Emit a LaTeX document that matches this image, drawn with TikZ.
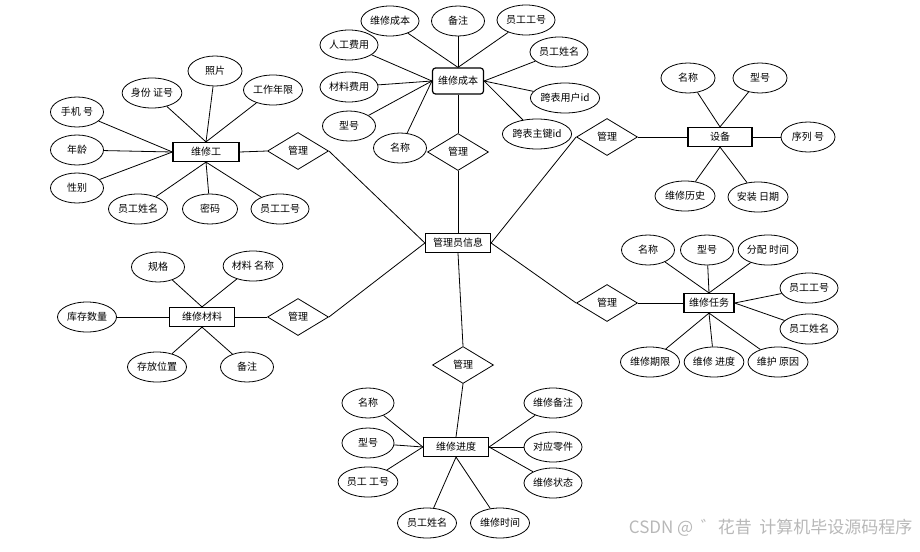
\documentclass[tikz,border=0pt]{standalone}
\usepackage{fontspec}
\setmainfont{Noto Sans CJK SC}
\usetikzlibrary{shapes.geometric}
\tikzset{
  entity/.style={draw, line width=1.2pt, minimum width=65pt, minimum height=19pt, inner sep=1pt},
  attr/.style={draw, line width=0.8pt, ellipse, minimum width=#1, minimum height=30pt, inner sep=0pt},
  attr/.default=58pt,
  rel/.style={draw, line width=0.8pt, diamond, minimum width=61pt, minimum height=37pt, inner sep=0pt},
  link/.style={line width=0.8pt}
}
\begin{document}
\begin{tikzpicture}[x=1pt, y=-1pt, every node/.style={font=\fontsize{10}{12}\selectfont}]
		\useasboundingbox (0,0) rectangle (920,551);
		%Entities
		\node[entity] (admin) at (458,243) {管理员信息};
		\node[entity, minimum width=66pt] (worker) at (206,152) {维修工};
		\node[entity, rounded corners=3pt, minimum width=51pt, minimum height=26pt] (cost) at (458,81) {维修成本};
		\node[entity, minimum width=64pt] (device) at (720,137) {设备};
		\node[entity] (material) at (202,317) {维修材料};
		\node[entity, minimum width=50pt] (task) at (709,303) {维修任务};
		\node[entity] (progress) at (456,447) {维修进度};
		%Relations
		\node[rel] (r1) at (298,151) {管理};
		\node[rel] (r2) at (458,152) {管理};
		\node[rel] (r3) at (607,137) {管理};
		\node[rel] (r4) at (298,317) {管理};
		\node[rel] (r5) at (607,303) {管理};
		\node[rel] (r6) at (463,365) {管理};
		\draw[link] (worker.east) -- (r1.west);
		\draw[link] (r1.east) -- (admin.west);
		\draw[link] (cost.south) -- (r2.north);
		\draw[link] (r2.south) -- (admin.north);
		\draw[link] (admin.east) -- (r3.west);
		\draw[link] (r3.east) -- (device.west);
		\draw[link] (material.east) -- (r4.west);
		\draw[link] (r4.east) -- (admin.west);
		\draw[link] (admin.east) -- (r5.west);
		\draw[link] (r5.east) -- (task.west);
		\draw[link] (admin.south) -- (r6.north);
		\draw[link] (r6.south) -- (progress.north);
		%Attributes of worker
		\foreach \t/\x/\y/\a/\w [count=\i] in {照片/215/71/north/54, 身份 证号/152/93/north/59, 工作年限/273/90/north/59,
			手机 号/77/112/west/53, 年龄/77/150/west/53, 性别/77/188/west/53,
			员工姓名/138/209/south/59, 密码/210/209/south/55, 员工工号/280/209/south/58}
		{\node[attr=\w pt] (w\i) at (\x,\y) {\t};
		 \draw[link] (w\i) -- (worker.\a);}
		%Attributes of cost
		\foreach \t/\x/\y/\a/\w [count=\i] in {维修成本/390/21/north/58, 备注/458/21/north/53, 员工工号/526/20/north/58,
			人工费用/349/45/west/58, 材料费用/349/87/west/58, 型号/349/126/west/53, 名称/400/148/west/53,
			员工姓名/559/52/east/58, 跨表用户id/565/98/east/69, 跨表主键id/537/134/east/68}
		{\node[attr=\w pt] (c\i) at (\x,\y) {\t};
		 \draw[link] (c\i) -- (cost.\a);}
		%Attributes of device
		\foreach \t/\x/\y/\a/\w [count=\i] in {名称/688/78/north/54, 型号/760/78/north/54, 序列 号/808/137/east/54,
			维修历史/685/196/south/60, 安装 日期/758/197/south/60}
		{\node[attr=\w pt] (d\i) at (\x,\y) {\t};
		 \draw[link] (d\i) -- (device.\a);}
		%Attributes of material
		\foreach \t/\x/\y/\a/\w [count=\i] in {规格/158/267/north/53, 材料 名称/253/266/north/58, 库存数量/87/317/west/59,
			存放位置/157/367/south/59, 备注/247/367/south/53}
		{\node[attr=\w pt] (m\i) at (\x,\y) {\t};
		 \draw[link] (m\i) -- (material.\a);}
		%Attributes of task
		\foreach \t/\x/\y/\a/\w [count=\i] in {名称/648/250/north/53, 型号/707/250/north/53, 分配 时间/768/250/north/59,
			员工工号/809/288/east/58, 员工姓名/809/329/east/58,
			维修期限/650/362/south/59, 维修 进度/714/362/south/58, 维护 原因/778/362/south/60}
		{\node[attr=\w pt] (t\i) at (\x,\y) {\t};
		 \draw[link] (t\i) -- (task.\a);}
		%Attributes of progress
		\foreach \t/\x/\y/\a/\w [count=\i] in {名称/368/403/west/52, 型号/368/443/west/52, 员工 工号/368/482/west/59,
			员工姓名/427/523/south/59, 维修时间/500/523/south/59,
			维修备注/553/403/east/58, 对应零件/553/447/east/58, 维修状态/553/483/east/58}
		{\node[attr=\w pt] (p\i) at (\x,\y) {\t};
		 \draw[link] (p\i) -- (progress.\a);}
		%Watermark
		\node[anchor=east, text=black!28, font=\fontsize{17}{20}\selectfont] (mark) at (916,528) {CSDN @ \ ゛花昔 \ 计算机毕设源码程序};
\end{tikzpicture}
\end{document}
